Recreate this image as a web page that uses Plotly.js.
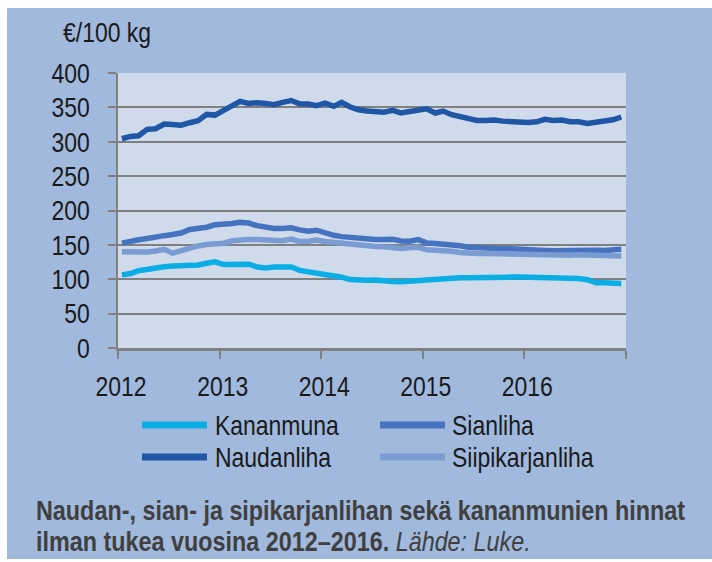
<!DOCTYPE html>
<html>
<head>
<meta charset="utf-8">
<script src="https://cdn.plot.ly/plotly-3.0.1.min.js"></script>
<style>
  html, body { margin: 0; padding: 0; background: #ffffff; }
  #chart { position: absolute; left: 7px; top: 8px; width: 705px; height: 551px; }
</style>
</head>
<body>
<div id="chart"></div>
<script>
// ---- Data (monthly, 2012-01 ... 2016-12), €/100 kg ----
var years = [2012, 2013, 2014, 2015, 2016];
var yearLabels = ['2012', '2013', '2014', '2015', '2016', ''];
var seriesNames = ['Kananmuna', 'Sianliha', 'Naudanliha', 'Siipikarjanliha'];

var kananmuna = [106.4,108.4,112.4,114.9,116.8,118.3,119.3,119.8,119.8,120.8,123.3,125.3,
                 121.3,121.8,122.3,121.8,117.8,116.3,117.8,117.3,117.8,112.9,110.9,110.4,
                 106.4,105.0,103.0,99.5,98.5,98.5,98.8,97.3,96.9,96.4,97.3,99.3,
                 99.8,100.2,100.7,102.7,102.2,102.2,102.7,102.7,103.1,103.1,103.1,103.1,
                 102.7,102.7,102.7,102.7,102.7,102.2,101.2,99.3,94.9,94.9,94.9,94.0];

var sianliha = [152.5,156.0,157.4,159.4,162.0,163.4,165.0,167.3,172.3,173.3,175.7,179.2,
                179.2,181.0,182.7,181.7,178.0,175.7,173.8,173.8,174.8,171.8,169.8,171.3,
                166.8,163.9,162.0,160.4,159.4,159.0,157.7,157.7,158.2,155.8,155.3,157.7,
                152.9,152.0,151.4,150.5,148.6,146.6,145.7,145.2,144.7,144.2,144.2,143.2,
                142.3,141.8,141.8,141.3,141.8,141.8,141.8,141.8,142.3,141.8,142.8,143.7];

var naudanliha = [304.4,307.8,308.7,318.0,319.0,325.7,325.0,324.0,327.7,330.6,339.8,338.8,
                  345.6,352.4,358.7,355.8,356.8,355.8,353.9,357.3,360.0,355.3,354.9,352.4,
                  356.3,351.5,357.3,350.5,346.6,344.7,343.0,343.0,345.6,341.8,344.0,346.6,
                  348.0,341.8,344.7,339.4,336.5,335.0,331.0,331.0,331.6,330.0,329.0,327.7,
                  328.0,329.0,332.6,331.0,331.6,329.0,329.0,326.6,328.6,330.6,332.0,336.0];

var siipikarjanliha = [140.0,139.6,139.6,139.6,141.0,143.6,138.0,142.0,145.5,148.5,150.5,151.5,
                       152.5,156.0,157.4,158.0,158.0,157.0,156.0,156.0,158.4,155.0,155.4,157.0,
                       155.0,153.5,152.0,151.0,150.0,149.5,147.6,147.1,146.1,144.7,145.7,146.6,
                       142.8,142.8,141.8,140.8,138.9,137.4,137.4,137.4,137.0,137.0,136.5,136.0,
                       136.0,135.5,135.5,135.0,135.0,135.0,135.5,135.5,134.5,133.6,134.0,134.0];

// month categories (mid-month dates)
var months = [];
years.forEach(function (y) {
  for (var m = 1; m <= 12; m++) {
    months.push(y + '-' + (m < 10 ? '0' + m : m) + '-15');
  }
});
var yearTicks = years.concat([2017]).map(function (y) { return y + '-01-01'; });

var colors = ['#0aade4', '#4673bf', '#1f56a6', '#7b9cd3'];
var values = [kananmuna, sianliha, naudanliha, siipikarjanliha];

var FONT = '"Liberation Sans", Arial, sans-serif';
var NARROW = 0.82;   // horizontal condensing to imitate Arial Narrow

// draw order: Kananmuna, Naudanliha, Sianliha, Siipikarjanliha
var order = [0, 2, 1, 3];
var traces = order.map(function (k) {
  return {
    type: 'scatter', mode: 'lines',
    x: months, y: values[k], name: seriesNames[k],
    line: { color: colors[k], width: 5.5 },
    showlegend: false, hoverinfo: 'x+y+name'
  };
});

// pixel helpers (page pixels -> paper coords); plot area x 118..626, y 73..348
function PX(px) { return (px - 118) / 508; }
function PY(py) { return (348 - py) / 275; }

var shapes = [];
var annotations = [];

// custom legend (2 columns x 2 rows)
var legendPos = [[0, 0], [1, 0], [0, 1], [1, 1]];
var colX = [[142, 207, 213], [380, 445, 450]];
var rowY = [425, 457];
seriesNames.forEach(function (name, k) {
  var c = legendPos[k][0], r = legendPos[k][1];
  shapes.push({
    type: 'line', xref: 'paper', yref: 'paper',
    x0: PX(colX[c][0]), x1: PX(colX[c][1]), y0: PY(rowY[r]), y1: PY(rowY[r]),
    line: { color: colors[k], width: 7 }
  });
  annotations.push({
    xref: 'paper', yref: 'paper', x: PX(colX[c][2]), y: PY(rowY[r]),
    xanchor: 'left', yanchor: 'middle', align: 'left', showarrow: false, text: name,
    font: { family: FONT, size: 28, color: '#1a1a1a' }
  });
});

// unit label
annotations.push({
  xref: 'paper', yref: 'paper', x: PX(61), y: PY(33),
  xanchor: 'left', yanchor: 'middle', align: 'left', showarrow: false, text: '€/100 kg',
  font: { family: FONT, size: 28, color: '#1a1a1a' }
});

// caption
annotations.push({
  xref: 'paper', yref: 'paper', x: PX(34), y: PY(510),
  xanchor: 'left', yanchor: 'middle', align: 'left', showarrow: false,
  text: '<b>Naudan-, sian- ja sipikarjanlihan sekä kananmunien hinnat</b>',
  font: { family: FONT, size: 28.5, color: '#404040' }
});
annotations.push({
  xref: 'paper', yref: 'paper', x: PX(34), y: PY(541),
  xanchor: 'left', yanchor: 'middle', align: 'left', showarrow: false,
  text: '<b>ilman tukea vuosina 2012–2016.</b> <i>Lähde: Luke.</i>',
  font: { family: FONT, size: 28.5, color: '#404040' }
});

var layout = {
  width: 705, height: 551,
  margin: { l: 111, r: 86, t: 65, b: 211, pad: 0 },
  paper_bgcolor: '#a0b9dd',
  plot_bgcolor: '#cfdbeb',
  font: { family: FONT, size: 28, color: '#1a1a1a' },
  xaxis: {
    type: 'date',
    range: ['2012-01-01', '2017-01-01'],
    tickmode: 'array', tickvals: yearTicks, ticktext: yearLabels,
    ticks: 'outside', ticklen: 8, tickwidth: 2, tickcolor: '#808080',
    showline: true, linecolor: '#808080', linewidth: 2.5,
    showgrid: false, zeroline: false,
    ticklabelshift: 3, ticklabelstandoff: 4,
    tickfont: { family: FONT, size: 28, color: '#1a1a1a' }
  },
  yaxis: {
    range: [0, 400], dtick: 50, tick0: 0,
    ticks: 'outside', ticklen: 8, tickwidth: 2, tickcolor: '#808080',
    showline: true, linecolor: '#808080', linewidth: 2.5,
    showgrid: true, gridcolor: '#808080', gridwidth: 2,
    zeroline: false, ticklabelstandoff: 12,
    tickfont: { family: FONT, size: 28, color: '#1a1a1a' }
  },
  shapes: shapes,
  annotations: annotations,
  showlegend: false
};

function condense() {
  var texts = document.querySelectorAll('#chart svg text');
  texts.forEach(function (t) {
    if (t.getAttribute('data-narrow')) return;
    var x = parseFloat(t.getAttribute('x')) || 0;
    var tr = t.getAttribute('transform') || '';
    t.setAttribute('transform', tr + ' translate(' + x + ',0) scale(' + NARROW + ',1) translate(' + (-x) + ',0)');
    t.setAttribute('data-narrow', '1');
  });
}

Plotly.newPlot('chart', traces, layout, { displayModeBar: false, staticPlot: true }).then(condense);
</script>
</body>
</html>
